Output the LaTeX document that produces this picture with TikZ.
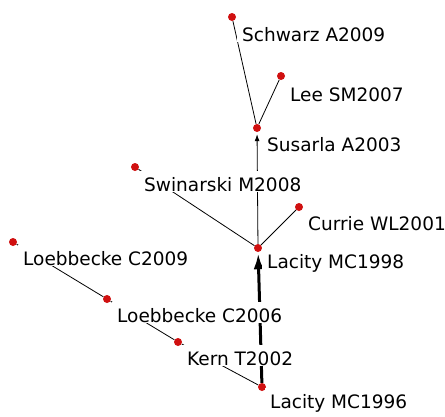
\documentclass[tikz,border=0pt]{standalone}
\usepackage{fontspec}
\setmainfont{DejaVu Sans}
\usetikzlibrary{arrows.meta,backgrounds}
\definecolor{dotred}{RGB}{208,16,16}

\begin{document}
\begin{tikzpicture}[x=1pt,y=-1pt,
  dot/.style={circle,fill=dotred,inner sep=0pt,minimum size=8pt},
  lbl/.style={fill=white,inner xsep=5pt,inner ysep=1pt,text height=19pt,anchor=base west,font=\fontsize{18.5}{20}\selectfont},
  link/.style={line width=0.8pt},
  mainpath/.style={line width=3pt,-{Latex[length=16pt,width=10pt]},shorten >=1pt}]
\useasboundingbox (0,0) rectangle (445,416);

% papers
\node[dot] (schwarz) at (232,17) {};
\node[dot] (lee) at (281,76) {};
\node[dot] (susarla) at (257,128) {};
\node[dot] (swinarski) at (135,167) {};
\node[dot] (currie) at (299,207) {};
\node[dot] (lacity98) at (258,248) {};
\node[dot] (loeb09) at (13,242) {};
\node[dot] (loeb06) at (107,299) {};
\node[dot] (kern) at (178,342) {};
\node[dot] (lacity96) at (262,387) {};

% citations, kept under the labels
\begin{scope}[on background layer]
\draw[link] (schwarz) -- (susarla);
\draw[link] (lee) -- (susarla);
\draw[link,-{Latex[length=7pt,width=5pt]},shorten >=2pt] (lacity98) -- (susarla);
\draw[link] (swinarski) -- (lacity98);
\draw[link] (currie) -- (lacity98);
\draw[mainpath] (lacity96) -- (lacity98);
\draw[link] (loeb09) -- (loeb06);
\draw[link] (loeb06) -- (kern);
\draw[link] (kern) -- (lacity96);
\end{scope}

% labels
\node[lbl] (schwarz-l) at (237,41) {Schwarz A2009};
\node[lbl] (lee-l) at (285,101) {Lee SM2007};
\node[lbl] (susarla-l) at (262,151) {Susarla A2003};
\node[lbl] (swinarski-l) at (139,191) {Swinarski M2008};
\node[lbl] (currie-l) at (303,230) {Currie WL2001};
\node[lbl] (lacity98-l) at (262,268) {Lacity MC1998};
\node[lbl] (loeb09-l) at (18,265) {Loebbecke C2009};
\node[lbl] (loeb06-l) at (112,322) {Loebbecke C2006};
\node[lbl] (kern-l) at (182,365) {Kern T2002};
\node[lbl] (lacity96-l) at (265,408) {Lacity MC1996};
\end{tikzpicture}
\end{document}
